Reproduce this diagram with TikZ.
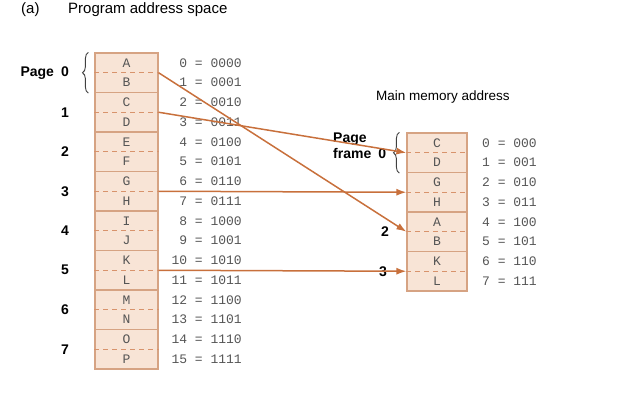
\documentclass[tikz,border=0pt]{standalone}
\usepackage{fontspec}
\setmainfont{Liberation Sans}
\newfontfamily\addrfont{Liberation Mono}
\usepackage{tikz}
\usetikzlibrary{arrows.meta, positioning, decorations.pathreplacing}
\definecolor{cellfill}{HTML}{F8E4D6}
\definecolor{cellline}{HTML}{D6A383}
\definecolor{cutline}{HTML}{D8936C}
\definecolor{mapline}{HTML}{C8703C}
\definecolor{addrgray}{HTML}{555555}

\begin{document}
\begin{tikzpicture}[
    x=1pt, y=-1pt,
    page/.style={draw=cellline, fill=cellfill, line width=1.2pt, minimum width=63pt,
        minimum height=39.5pt, inner sep=0pt, align=center, text=addrgray,
        font=\addrfont\fontsize{13}{19.75}\selectfont},
    frame/.style={page, minimum width=60pt},
    divider/.style={draw=cutline, line width=0.9pt, dash pattern=on 5pt off 4pt},
    addr/.style={anchor=east, align=right, inner sep=0pt, text=addrgray,
        font=\addrfont\fontsize{13}{19.75}\selectfont},
    pnum/.style={anchor=east, inner sep=0pt, font=\fontsize{14}{16}\selectfont\bfseries},
    brace/.style={decorate, decoration={brace, amplitude=6pt}, draw=black!75, line width=0.9pt},
    flow/.style={-{Latex[length=10pt, width=7pt]}, line width=1.5pt, color=mapline},
    title/.style={inner sep=0pt, font=\fontsize{15}{17}\selectfont}
]
\useasboundingbox (0,0) rectangle (622,401);

% --- Headings ---
\node[title, anchor=west] (tag)   at (21,10)  {(a)};
\node[title, anchor=west] (ptitle) at (68,10) {Program address space};
\node[title, font=\fontsize{13.5}{16}\selectfont] (mtitle) at (443,97) {Main memory address};

% --- Program address space: pages 0--7 ---
\node[page] (p0) at (126.5, 72.75)  {A\\B};
\node[page] (p1) at (126.5, 112.25) {C\\D};
\node[page] (p2) at (126.5, 151.75) {E\\F};
\node[page] (p3) at (126.5, 191.25) {G\\H};
\node[page] (p4) at (126.5, 230.75) {I\\J};
\node[page] (p5) at (126.5, 270.25) {K\\L};
\node[page] (p6) at (126.5, 309.75) {M\\N};
\node[page] (p7) at (126.5, 349.25) {O\\P};

\draw[divider] (p0.west) -- (p0.east);
\draw[divider] (p1.west) -- (p1.east);
\draw[divider] (p2.west) -- (p2.east);
\draw[divider] (p3.west) -- (p3.east);
\draw[divider] (p4.west) -- (p4.east);
\draw[divider] (p5.west) -- (p5.east);
\draw[divider] (p6.west) -- (p6.east);
\draw[divider] (p7.west) -- (p7.east);

% --- Page numbers ---
\node[pnum] (pg0) at (69, 73) {Page\enspace 0};
\node[pnum] (pg1) at (69, 112.25) {1};
\node[pnum] (pg2) at (69, 151.75) {2};
\node[pnum] (pg3) at (69, 191.25) {3};
\node[pnum] (pg4) at (69, 230.75) {4};
\node[pnum] (pg5) at (69, 270.25) {5};
\node[pnum] (pg6) at (69, 309.75) {6};
\node[pnum] (pg7) at (69, 349.25) {7};
\draw[brace] ([xshift=-6pt]p0.south west) -- ([xshift=-6pt]p0.north west);

% --- Virtual addresses ---
\node[addr] (a0) at (242, 72.75)  {0 = 0000\\1 = 0001};
\node[addr] (a1) at (242, 112.25) {2 = 0010\\3 = 0011};
\node[addr] (a2) at (242, 151.75) {4 = 0100\\5 = 0101};
\node[addr] (a3) at (242, 191.25) {6 = 0110\\7 = 0111};
\node[addr] (a4) at (242, 230.75) {8 = 1000\\9 = 1001};
\node[addr] (a5) at (242, 270.25) {10 = 1010\\11 = 1011};
\node[addr] (a6) at (242, 309.75) {12 = 1100\\13 = 1101};
\node[addr] (a7) at (242, 349.25) {14 = 1110\\15 = 1111};

% --- Main memory: page frames 0--3 ---
\node[frame] (f0) at (437, 152.75) {C\\D};
\node[frame] (f1) at (437, 192.25) {G\\H};
\node[frame] (f2) at (437, 231.75) {A\\B};
\node[frame] (f3) at (437, 271.25) {K\\L};

\draw[divider] (f0.west) -- (f0.east);
\draw[divider] (f1.west) -- (f1.east);
\draw[divider] (f2.west) -- (f2.east);
\draw[divider] (f3.west) -- (f3.east);

\node[addr] (b0) at (537, 152.75) {0 = 000\\1 = 001};
\node[addr] (b1) at (537, 192.25) {2 = 010\\3 = 011};
\node[addr] (b2) at (537, 231.75) {4 = 100\\5 = 101};
\node[addr] (b3) at (537, 271.25) {6 = 110\\7 = 111};

% --- Frame labels ---
\node[pnum, anchor=west, align=left] (fr0) at (333, 146) {Page\\frame\enspace 0};
\node[pnum] (fr2) at (389, 231.75) {2};
\node[pnum] (fr3) at (387, 271.25) {3};
\draw[brace] ([xshift=-7pt]f0.south west) -- ([xshift=-7pt]f0.north west);

% --- Page to frame mapping ---
\draw[flow] (p0.east) -- (f2.west);
\draw[flow] (p1.east) -- (f0.west);
\draw[flow] (p3.east) -- (f1.west);
\draw[flow] (p5.east) -- (f3.west);

\end{tikzpicture}
\end{document}
